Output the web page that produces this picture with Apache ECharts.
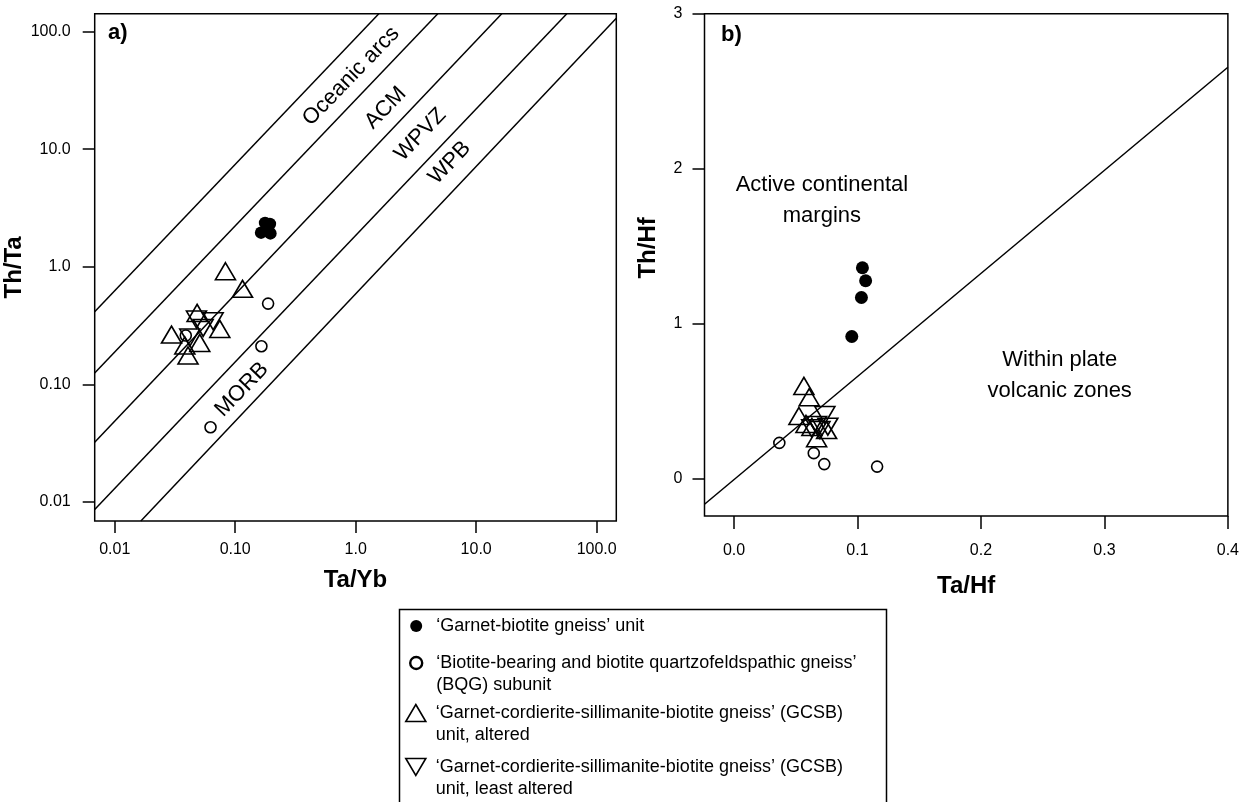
<!DOCTYPE html>
<html><head><meta charset="utf-8">
<script src="https://cdn.jsdelivr.net/npm/echarts@6/dist/echarts.min.js"></script>
<style>html,body{margin:0;padding:0;background:#fff}#c{width:1242px;height:802px}</style>
</head><body><div id="c"></div>
<script>
const FONT = '"Liberation Sans", Arial, Helvetica, sans-serif';
const INK = '#000000';

// ---- series names (legend text) ----
const nameGarnetBiotite = '\u2018Garnet-biotite gneiss\u2019 unit';
const nameBQG = '\u2018Biotite-bearing and biotite quartzofeldspathic gneiss\u2019\n(BQG) subunit';
const nameGCSBAltered = '\u2018Garnet-cordierite-sillimanite-biotite gneiss\u2019 (GCSB)\nunit, altered';
const nameGCSBLeast = '\u2018Garnet-cordierite-sillimanite-biotite gneiss\u2019 (GCSB)\nunit, least altered';

// ---- panel a: Ta/Yb (x) vs Th/Ta (y), log-log ----
const aGarnetBiotite = [[0.177, 2.36], [0.194, 2.31], [0.164, 1.95], [0.196, 1.92]];
const aBQG = [[0.1875, 0.486], [0.165, 0.211], [0.0624, 0.0432], [0.0389, 0.260]];
const aGCSBAltered = [[0.083, 0.916], [0.115, 0.649], [0.0483, 0.405], [0.0296, 0.265],
                      [0.0745, 0.296], [0.0508, 0.225], [0.0406, 0.176], [0.0382, 0.214]];
const aGCSBLeast = [[0.0477, 0.356], [0.0656, 0.344], [0.0542, 0.302], [0.0420, 0.250]];

const aBoundaries = [
  [[0.00682, 0.414], [1.556, 141.6]],
  [[0.00682, 0.1248], [4.80, 141.6]],
  [[0.00682, 0.0322], [16.3, 141.6]],
  [[0.00682, 0.00863], [56.5, 141.6]],
  [[0.01648, 0.00689], [145.5, 129.8]]
];
const aBoundaryLabels = [
  { name: 'Oceanic arcs', value: [0.916, 41.7] },
  { name: 'ACM', value: [1.77, 22.4] },
  { name: 'WPVZ', value: [3.44, 13.3] },
  { name: 'WPB', value: [6.04, 7.65] },
  { name: 'MORB', value: [0.1136, 0.0903] }
];
const aXRange = [0.006823, 145.5];
const aYRange = [0.006887, 141.6];
const logTickValues = [0.01, 0.1, 1, 10, 100];
const logTickLabels = ['0.01', '0.10', '1.0', '10.0', '100.0'];

// ---- panel b: Ta/Hf (x) vs Th/Hf (y), linear ----
const bGarnetBiotite = [[0.104, 1.360], [0.1066, 1.276], [0.1032, 1.168], [0.0954, 0.916]];
const bBQG = [[0.0367, 0.229], [0.0646, 0.163], [0.0731, 0.092], [0.1159, 0.076]];
const bGCSBAltered = [[0.0566, 0.597], [0.0609, 0.524], [0.0526, 0.403], [0.0669, 0.259],
                      [0.0750, 0.312], [0.0631, 0.332], [0.0583, 0.351]];
const bGCSBLeast = [[0.0736, 0.409], [0.0669, 0.345], [0.0760, 0.334], [0.0629, 0.323], [0.0696, 0.312]];

const bBoundary = [[-0.0239, -0.167], [0.4, 2.655]];
const bFieldLabels = [
  { name: 'Active continental\nmargins', value: [0.0712, 1.797] },
  { name: 'Within plate\nvolcanic zones', value: [0.2638, 0.662] }
];
const bXRange = [-0.0239, 0.4];
const bYRange = [-0.243, 3];
const bXTickValues = [0, 0.1, 0.2, 0.3, 0.4];
const bXTickLabels = ['0.0', '0.1', '0.2', '0.3', '0.4'];
const bYTickValues = [0, 1, 2, 3];
const bYTickLabels = ['0', '1', '2', '3'];

// ---- helpers ----
function labelFor(values, labels, log) {
  return function (v) {
    for (let i = 0; i < values.length; i++) {
      const d = log ? Math.abs(Math.log10(v) - Math.log10(values[i])) : Math.abs(v - values[i]);
      if (d < 1e-6) return labels[i];
    }
    return '';
  };
}
const styleFilled = { color: INK, opacity: 1 };
const styleOpen = { color: 'rgba(0,0,0,0)', borderColor: INK, borderWidth: 1.6, opacity: 1 };

function pointSeries(gi, name, data, kind, big) {
  const s = {
    type: 'scatter', name: name, xAxisIndex: gi, yAxisIndex: gi, data: data,
    animation: false, z: 5
  };
  if (kind === 'filled') { s.symbol = 'circle'; s.symbolSize = big ? 13 : 12.5; s.itemStyle = styleFilled; }
  if (kind === 'open') { s.symbol = 'circle'; s.symbolSize = 11; s.itemStyle = styleOpen; }
  if (kind === 'up') { s.symbol = 'triangle'; s.symbolSize = [20, 17]; s.itemStyle = styleOpen; }
  if (kind === 'down') { s.symbol = 'triangle'; s.symbolRotate = 180; s.symbolSize = [20, 17]; s.itemStyle = styleOpen; }
  return s;
}
function boundarySeries(gi, pts) {
  return {
    type: 'line', xAxisIndex: gi, yAxisIndex: gi, data: pts, symbol: 'none', silent: true,
    lineStyle: { color: INK, width: 1.5, opacity: 1 }, z: 3, animation: false
  };
}
function textSeries(gi, items, extra) {
  return {
    type: 'scatter', xAxisIndex: gi, yAxisIndex: gi, data: items, symbolSize: 1, silent: true,
    itemStyle: { color: 'rgba(0,0,0,0)', opacity: 1 }, animation: false, z: 4,
    label: Object.assign({ show: true, position: 'inside', formatter: '{b}', color: INK, opacity: 1,
      fontFamily: FONT, fontSize: 22 }, extra)
  };
}
const tickStyle = { color: INK, width: 1.5 };
const labelStyle = { color: INK, fontFamily: FONT, fontSize: 16 };
const nameStyle = { color: INK, fontFamily: FONT, fontSize: 24, fontWeight: 'bold' };
const hiddenLine = { show: false, onZero: false };

const chart = echarts.init(document.getElementById('c'), null, { renderer: 'canvas' });
const series = [];
aBoundaries.forEach(b => series.push(boundarySeries(0, b)));
series.push(boundarySeries(1, bBoundary));
series.push(textSeries(0, aBoundaryLabels, { rotate: 46 }));
series.push(textSeries(1, bFieldLabels, { lineHeight: 31, align: 'center' }));
series.push(pointSeries(0, nameGarnetBiotite, aGarnetBiotite, 'filled'));
series.push(pointSeries(0, nameBQG, aBQG, 'open'));
series.push(pointSeries(0, nameGCSBAltered, aGCSBAltered, 'up'));
series.push(pointSeries(0, nameGCSBLeast, aGCSBLeast, 'down'));
series.push(pointSeries(1, nameGarnetBiotite, bGarnetBiotite, 'filled', true));
series.push(pointSeries(1, nameBQG, bBQG, 'open'));
series.push(pointSeries(1, nameGCSBAltered, bGCSBAltered, 'up'));
series.push(pointSeries(1, nameGCSBLeast, bGCSBLeast, 'down'));

// two-line legend entries get a leading blank line so the icon sits beside the first line
const legendFormatter = n => (n.indexOf('\n') >= 0 ? '\n' + n : n);

const option = {
  backgroundColor: '#fff',
  animation: false,
  textStyle: { fontFamily: FONT },
  grid: [
    { left: 94.7, top: 13.8, width: 521.6, height: 507.2, show: true, borderColor: INK, borderWidth: 1.5, containLabel: false },
    { left: 704.5, top: 13.8, width: 524, height: 502.2, show: true, borderColor: INK, borderWidth: 1.5, containLabel: false }
  ],
  xAxis: [
    { gridIndex: 0, type: 'log', logBase: 10, min: aXRange[0], max: aXRange[1],
      axisLine: hiddenLine, splitLine: { show: false },
      axisTick: { show: true, length: 12, lineStyle: tickStyle, customValues: logTickValues },
      axisLabel: Object.assign({ margin: 21, customValues: logTickValues,
        formatter: labelFor(logTickValues, logTickLabels, true) }, labelStyle),
      name: 'Ta/Yb', nameLocation: 'middle', nameGap: 47, nameTextStyle: nameStyle },
    { gridIndex: 1, type: 'value', min: bXRange[0], max: bXRange[1], position: 'bottom',
      axisLine: hiddenLine, splitLine: { show: false },
      axisTick: { show: true, length: 13, lineStyle: tickStyle, customValues: bXTickValues },
      axisLabel: Object.assign({ margin: 27, customValues: bXTickValues,
        formatter: labelFor(bXTickValues, bXTickLabels, false) }, labelStyle),
      name: 'Ta/Hf', nameLocation: 'middle', nameGap: 58, nameTextStyle: nameStyle }
  ],
  yAxis: [
    { gridIndex: 0, type: 'log', logBase: 10, min: aYRange[0], max: aYRange[1],
      axisLine: hiddenLine, splitLine: { show: false },
      axisTick: { show: true, length: 12, lineStyle: tickStyle, customValues: logTickValues },
      axisLabel: Object.assign({ margin: 24, customValues: logTickValues,
        formatter: labelFor(logTickValues, logTickLabels, true) }, labelStyle),
      name: 'Th/Ta', nameLocation: 'middle', nameGap: 62, nameTextStyle: nameStyle },
    { gridIndex: 1, type: 'value', min: bYRange[0], max: bYRange[1], position: 'left',
      axisLine: hiddenLine, splitLine: { show: false },
      axisTick: { show: true, length: 12, lineStyle: tickStyle, customValues: bYTickValues },
      axisLabel: Object.assign({ margin: 22, customValues: bYTickValues,
        formatter: labelFor(bYTickValues, bYTickLabels, false) }, labelStyle),
      name: 'Th/Hf', nameLocation: 'middle', nameGap: 44,
      nameTextStyle: Object.assign({ padding: [0, 0, 0, 34] }, nameStyle) }
  ],
  legend: [
    { orient: 'vertical', left: 409, top: 615, padding: 0, itemGap: -7,
      itemWidth: 12, itemHeight: 12, selectedMode: false, formatter: legendFormatter,
      textStyle: { color: INK, fontFamily: FONT, fontSize: 18, lineHeight: 22 },
      data: [
        { name: nameGarnetBiotite, itemStyle: styleFilled, textStyle: { padding: [0, 0, 0, 9] } },
        { name: nameBQG, itemStyle: { color: 'rgba(0,0,0,0)', borderColor: INK, borderWidth: 2.4, opacity: 1 },
          textStyle: { padding: [0, 0, 0, 9] } }
      ] },
    { orient: 'vertical', left: 405, top: 680, padding: 0, itemGap: -12,
      itemWidth: 20, itemHeight: 17, selectedMode: false, formatter: legendFormatter,
      textStyle: { color: INK, fontFamily: FONT, fontSize: 18, lineHeight: 22 },
      data: [
        { name: nameGCSBAltered, icon: 'path://M10,0L20,17L0,17Z', itemStyle: styleOpen,
          textStyle: { padding: [0, 0, 0, 5] } },
        { name: nameGCSBLeast, icon: 'path://M0,0L20,0L10,17Z', itemStyle: styleOpen,
          textStyle: { padding: [0, 0, 0, 5] } }
      ] }
  ],
  graphic: [
    { type: 'rect', left: 397, top: 607, shape: { width: 487, height: 230 },
      style: { fill: 'none', stroke: INK, lineWidth: 1.5 }, silent: true },
    { type: 'text', left: 108, top: 22, style: { text: 'a)', fill: INK, font: 'bold 22px ' + FONT } },
    { type: 'text', left: 721, top: 24, style: { text: 'b)', fill: INK, font: 'bold 22px ' + FONT } }
  ],
  series: series
};
chart.setOption(option);
</script>
</body></html>
